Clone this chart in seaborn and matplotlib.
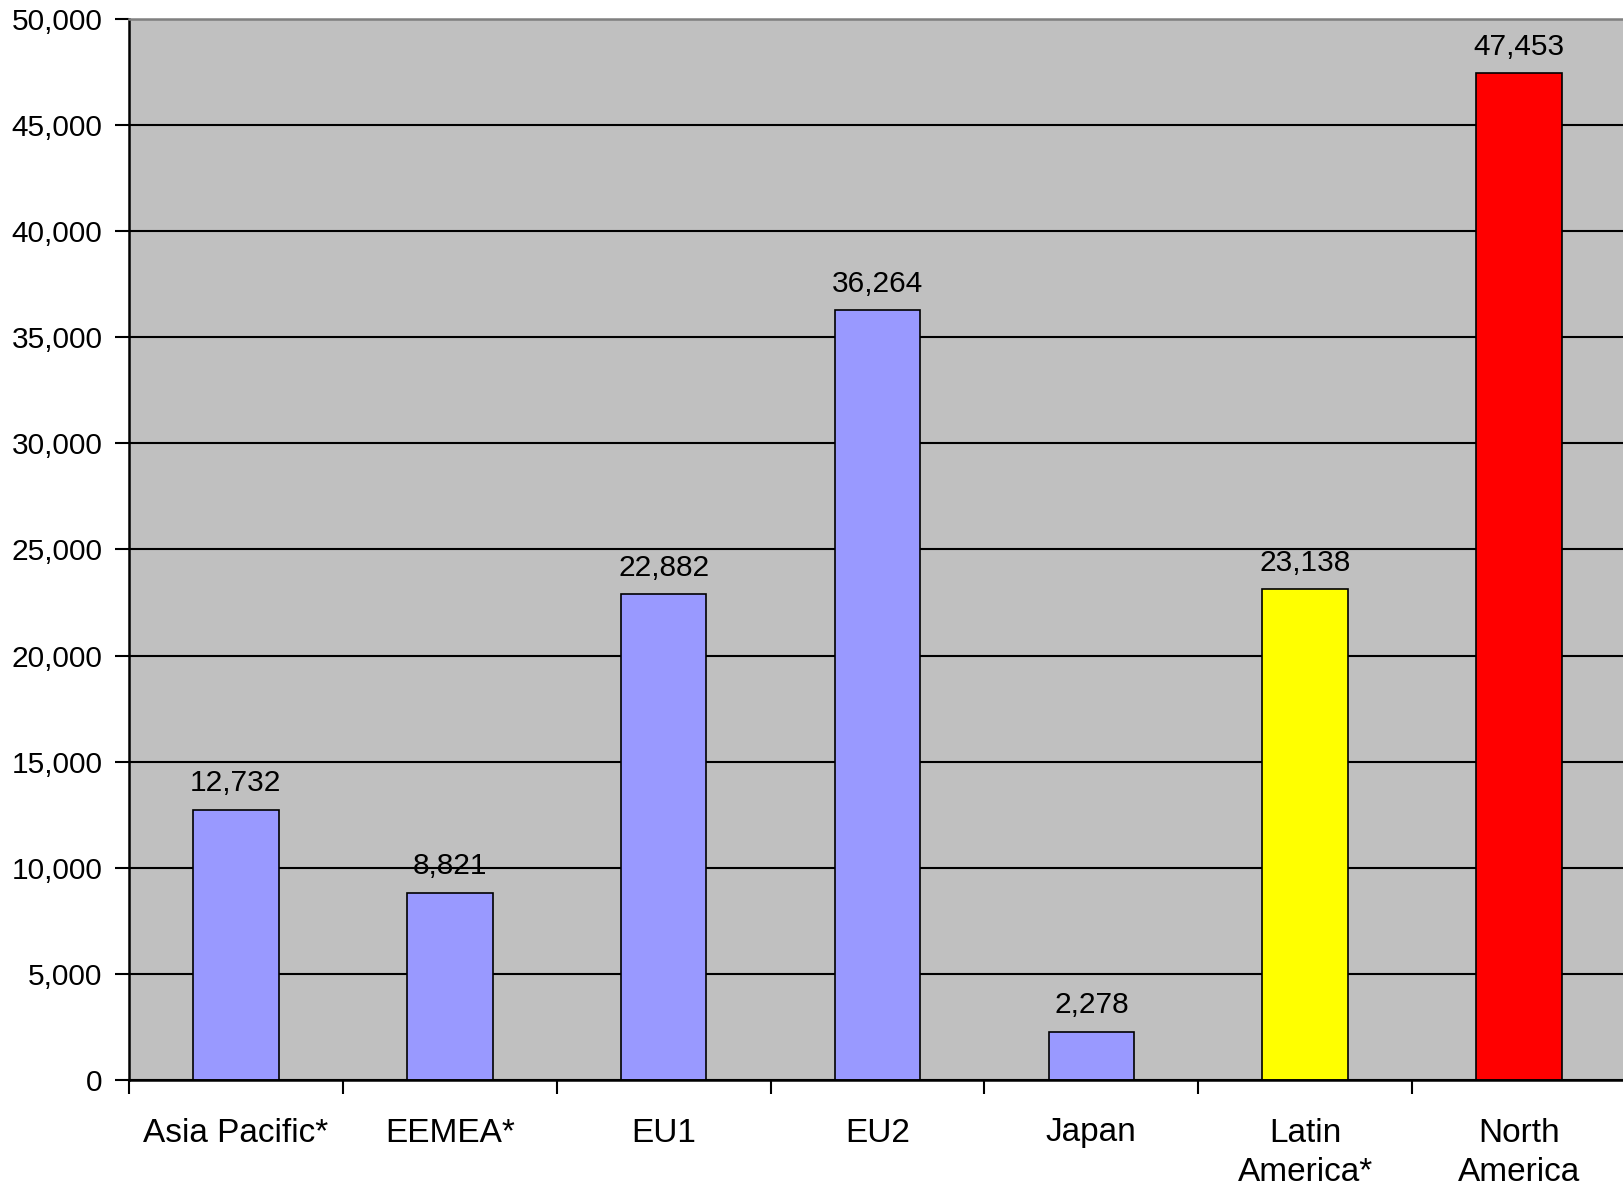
import numpy as np
import pandas as pd
import matplotlib
matplotlib.use("Agg")
import matplotlib.pyplot as plt
import seaborn as sns

regions = ["Asia Pacific*", "EEMEA*", "EU1", "EU2", "Japan", "Latin\nAmerica*", "North\nAmerica"]
values = [12732, 8821, 22882, 36264, 2278, 23138, 47453]
bar_colors = ["#9999FF", "#9999FF", "#9999FF", "#9999FF", "#9999FF", "#FFFF00", "#FF0000"]
y_ticks = list(range(0, 50001, 5000))

sns.set_theme(style="white")
plt.rcParams["font.family"] = ["Liberation Sans", "DejaVu Sans"]

df = pd.DataFrame({"region": regions, "value": values})

fig = plt.figure(figsize=(16.24, 11.86), dpi=100)
ax = fig.add_axes([129 / 1624, 106 / 1186, 1497 / 1624, 1061 / 1186])
ax.set_facecolor("#C0C0C0")
ax.set_axisbelow(True)

sns.barplot(data=df, x="region", y="value", hue="region", palette=bar_colors,
            order=regions, hue_order=regions, width=0.4, legend=False,
            edgecolor="black", linewidth=1.2, saturation=1, ax=ax)

ax.set_xlim(-0.5, len(regions) - 0.5)
ax.set_ylim(0, 50000)
ax.set_yticks(y_ticks)
ax.set_yticklabels([f"{t:,}" for t in y_ticks], fontsize=21.5, color="black")
ax.yaxis.grid(True, color="black", linewidth=1.5)
ax.xaxis.grid(False)

# boundary ticks between categories, labels centred on the bars
ax.set_xticks(np.arange(-0.5, len(regions), 1.0))
ax.set_xticklabels([""] * (len(regions) + 1))
ax.set_xticks(np.arange(len(regions)), minor=True)
ax.set_xticklabels(regions, minor=True, fontsize=24, color="black", linespacing=1.35)
ax.tick_params(axis="x", which="major", bottom=True, length=10, width=1.5, color="black", direction="out")
ax.tick_params(axis="x", which="minor", bottom=True, length=0, pad=27)
ax.tick_params(axis="y", left=True, length=10, width=1.5, color="black", direction="out", pad=9)

ax.set_xlabel("")
ax.set_ylabel("")

for side in ["left", "bottom"]:
    ax.spines[side].set_color("black")
    ax.spines[side].set_linewidth(1.8)
ax.spines["top"].set_color("#808080")
ax.spines["top"].set_linewidth(1.8)
ax.spines["right"].set_visible(False)

for container in ax.containers:
    ax.bar_label(container, labels=[f"{v:,.0f}" for v in container.datavalues],
                 padding=9, fontsize=21.5, color="black")

fig.savefig("out.png", dpi=100, facecolor="white")
